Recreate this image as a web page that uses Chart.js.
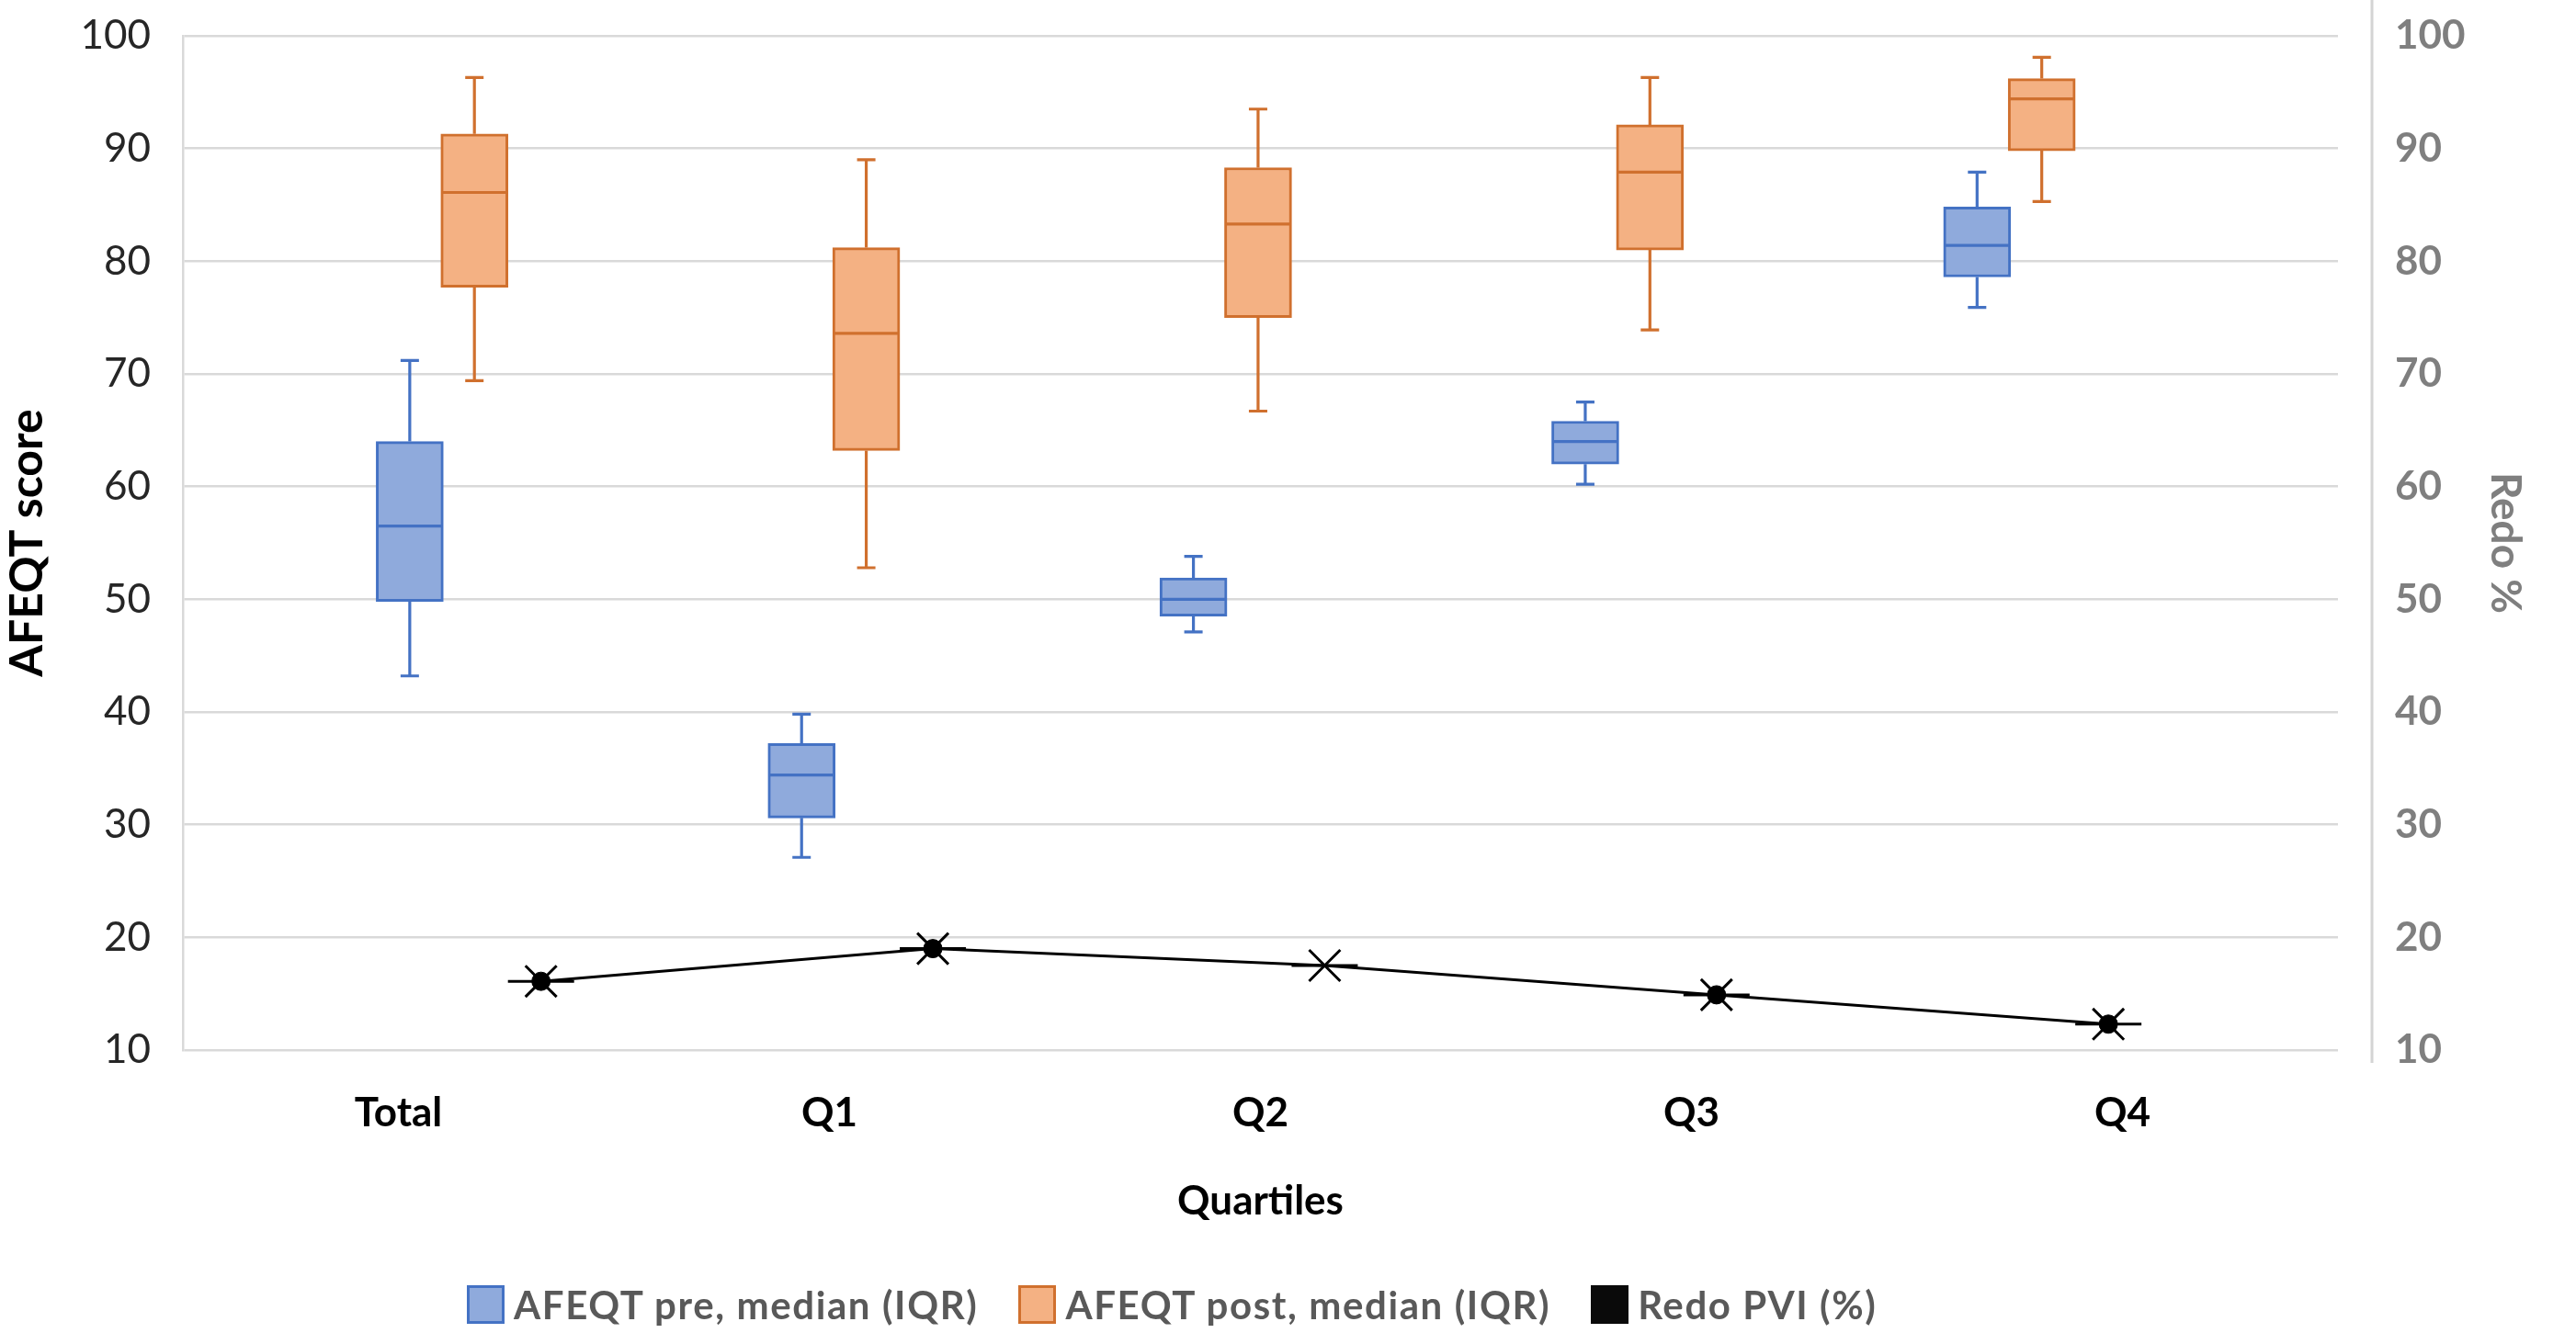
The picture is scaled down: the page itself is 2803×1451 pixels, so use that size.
<!DOCTYPE html>
<html>
<head>
<meta charset="utf-8">
<script src="https://cdn.jsdelivr.net/npm/chart.js@4.4.1/dist/chart.umd.min.js"></script>
<style>
  html, body { margin: 0; padding: 0; background: #fff; }
  #wrap { position: relative; width: 2803px; height: 1451px; }
  #chart { position: absolute; left: 0; top: 0; }
  #legend {
    position: absolute; left: 508px; top: 1399px; height: 42px;
    display: flex; align-items: center;
    font-family: Lato, sans-serif; font-weight: bold; font-size: 42px; color: #595959;
    letter-spacing: 1.6px;
  }
  #legend .item { display: flex; align-items: center; margin-right: 44px; }
  #legend .sw { width: 35px; height: 36px; border: 3px solid; margin-right: 10px; }
</style>
</head>
<body>
<div id="wrap">
  <canvas id="chart" width="2803" height="1451"></canvas>
  <div id="legend"></div>
</div>
<script>
const categories = ['Total', 'Q1', 'Q2', 'Q3', 'Q4'];

// AFEQT pre: whisker low, Q1, median, Q3, whisker high
const preMin    = [43.2, 27.1, 47.1, 60.2, 75.9];
const preQ1     = [49.8, 30.6, 48.5, 62.0, 78.6];
const preMedian = [56.5, 34.4, 50.0, 64.0, 81.4];
const preQ3     = [64.0, 37.2, 51.9, 65.8, 84.8];
const preMax    = [71.2, 39.8, 53.8, 67.5, 87.9];

// AFEQT post
const postMin    = [69.4, 52.8, 66.7, 73.9, 85.3];
const postQ1     = [77.7, 63.2, 75.0, 81.0, 89.8];
const postMedian = [86.1, 73.6, 83.3, 87.9, 94.4];
const postQ3     = [91.3, 81.2, 88.3, 92.1, 96.2];
const postMax    = [96.3, 89.0, 93.5, 96.3, 98.1];

// Redo PVI (%) on the right axis
const redoPct = [16.1, 19.0, 17.5, 14.9, 12.3];

const legendItems = [
  { text: 'AFEQT pre, median (IQR)', fill: '#8FAADC', border: '#4472C4' },
  { text: 'AFEQT post, median (IQR)', fill: '#F4B183', border: '#D0702E' },
  { text: 'Redo PVI (%)', fill: '#0A0A0A', border: '#0A0A0A' }
];

const PLOT_LEFT = 199, PLOT_RIGHT = 2544, PLOT_TOP = 31, PLOT_BOTTOM = 1143;
const CANVAS_W = 2803, CANVAS_H = 1451, BOTTOM_PAD = 114;
// offsets inside a category, in category units
const PRE_SHIFT = -0.171, POST_SHIFT = -0.006, MARKER_SHIFT = 0.164;
const BOX_WIDTH = 73, CAP_HALF = 10;

const boxStats = {
  pre:  { min: preMin, med: preMedian, max: preMax, color: '#4472C4' },
  post: { min: postMin, med: postMedian, max: postMax, color: '#D0702E' }
};

const whiskerPlugin = {
  id: 'whiskers',
  afterDatasetsDraw(chart) {
    const ctx = chart.ctx;
    const yScale = chart.scales.y;
    chart.data.datasets.forEach((ds, di) => {
      const stats = boxStats[ds.statKey];
      if (!stats) return;
      const meta = chart.getDatasetMeta(di);
      ctx.save();
      ctx.strokeStyle = stats.color;
      ctx.lineWidth = 3.2;
      meta.data.forEach((bar, i) => {
        const x = bar.x, half = bar.width / 2 - 1;
        const top = Math.min(bar.y, bar.base), bottom = Math.max(bar.y, bar.base);
        const yMed = yScale.getPixelForValue(stats.med[i]);
        const yHi = yScale.getPixelForValue(stats.max[i]);
        const yLo = yScale.getPixelForValue(stats.min[i]);
        ctx.beginPath();
        ctx.moveTo(x - half, yMed); ctx.lineTo(x + half, yMed);
        ctx.moveTo(x, top); ctx.lineTo(x, yHi);
        ctx.moveTo(x - CAP_HALF, yHi); ctx.lineTo(x + CAP_HALF, yHi);
        ctx.moveTo(x, bottom); ctx.lineTo(x, yLo);
        ctx.moveTo(x - CAP_HALF, yLo); ctx.lineTo(x + CAP_HALF, yLo);
        ctx.stroke();
      });
      ctx.restore();
    });
  },
  afterDraw(chart) {
    // secondary axis line, set a little off the plot area
    const ctx = chart.ctx;
    ctx.save();
    ctx.strokeStyle = '#d4d4d4';
    ctx.lineWidth = 3;
    ctx.beginPath();
    ctx.moveTo(chart.chartArea.right + 37, 0);
    ctx.lineTo(chart.chartArea.right + 37, chart.chartArea.bottom + 14);
    ctx.stroke();
    ctx.restore();
  }
};

const redoPoints = redoPct.map((v, i) => ({ x: i + MARKER_SHIFT, y: v }));

function noEdgePadding(scale) {
  scale.paddingTop = 0;
  scale.paddingBottom = 0;
}

new Chart(document.getElementById('chart'), {
  type: 'bar',
  data: {
    labels: categories,
    datasets: [
      {
        statKey: 'pre', xAxisID: 'xv',
        data: preQ1.map((q, i) => ({ x: i + PRE_SHIFT, y: [q, preQ3[i]] })),
        backgroundColor: '#8FAADC', borderColor: '#4472C4', borderWidth: 3, borderSkipped: false,
        grouped: false, barThickness: BOX_WIDTH, order: 2
      },
      {
        statKey: 'post', xAxisID: 'xv',
        data: postQ1.map((q, i) => ({ x: i + POST_SHIFT, y: [q, postQ3[i]] })),
        backgroundColor: '#F4B183', borderColor: '#D0702E', borderWidth: 3, borderSkipped: false,
        grouped: false, barThickness: BOX_WIDTH, order: 2
      },
      {
        type: 'line', xAxisID: 'xv', yAxisID: 'y2', data: redoPoints,
        borderColor: '#000', borderWidth: 3, pointStyle: 'crossRot', pointRadius: 24,
        pointBorderColor: '#000', pointBorderWidth: 3, order: 1
      },
      {
        type: 'line', xAxisID: 'xv', yAxisID: 'y2', data: redoPoints, showLine: false,
        pointStyle: 'line', pointRadius: 36, pointBorderColor: '#000', pointBorderWidth: 3, order: 0
      },
      {
        type: 'line', xAxisID: 'xv', yAxisID: 'y2', data: redoPoints, showLine: false,
        pointStyle: 'circle', pointRadius: [10, 10, 0, 10, 10], pointBackgroundColor: '#000',
        pointBorderColor: '#000', pointBorderWidth: 1, order: 0
      }
    ]
  },
  options: {
    responsive: false,
    devicePixelRatio: 1,
    animation: false,
    layout: { padding: { left: 0, right: 0, top: PLOT_TOP, bottom: BOTTOM_PAD } },
    plugins: { legend: { display: false }, tooltip: { enabled: false } },
    scales: {
      x: {
        type: 'category', offset: true,
        grid: { display: false },
        border: { display: false },
        ticks: { color: '#000', padding: 34, font: { family: 'Lato', size: 44, weight: 'bold' } },
        title: {
          display: true, text: 'Quartiles', color: '#000',
          font: { family: 'Lato', size: 44, weight: 'bold' }, padding: { top: 0, bottom: 3 }
        },
        afterFit(scale) { scale.height = CANVAS_H - BOTTOM_PAD - PLOT_BOTTOM; }
      },
      xv: { type: 'linear', display: false, min: -0.5, max: 4.5 },
      y: {
        min: 10, max: 100,
        ticks: { stepSize: 10, color: '#262626', padding: 35, font: { family: 'Lato', size: 44 } },
        grid: { color: '#d9d9d9', lineWidth: 2.5, drawTicks: false },
        border: { display: true, color: '#d9d9d9', width: 2.5 },
        title: {
          display: true, text: 'AFEQT score', color: '#000',
          font: { family: 'Lato', size: 50, weight: 'bold' }, padding: { top: 0, bottom: 0 }
        },
        afterFit(scale) { scale.width = PLOT_LEFT; noEdgePadding(scale); }
      },
      y2: {
        position: 'right', min: 10, max: 100,
        ticks: { stepSize: 10, color: '#7f7f7f', padding: 62, font: { family: 'Lato', size: 44, weight: 'bold' } },
        grid: { drawOnChartArea: false, drawTicks: false },
        border: { display: false },
        title: {
          display: true, text: 'Redo %', color: '#7f7f7f',
          font: { family: 'Lato', size: 46, weight: 'bold' }, padding: { top: 50, bottom: 0 }
        },
        afterFit(scale) { scale.width = CANVAS_W - PLOT_RIGHT; noEdgePadding(scale); }
      }
    }
  },
  plugins: [whiskerPlugin]
});

const legendEl = document.getElementById('legend');
legendItems.forEach(item => {
  const el = document.createElement('div');
  el.className = 'item';
  const sw = document.createElement('span');
  sw.className = 'sw';
  sw.style.background = item.fill;
  sw.style.borderColor = item.border;
  const label = document.createElement('span');
  label.textContent = item.text;
  el.appendChild(sw);
  el.appendChild(label);
  legendEl.appendChild(el);
});
</script>
</body>
</html>
